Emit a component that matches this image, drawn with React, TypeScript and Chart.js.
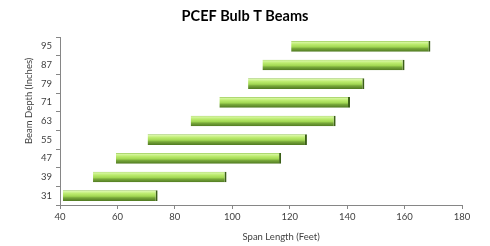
import React, { useEffect, useRef } from "react";
import { Chart, registerables } from "chart.js";

Chart.register(...registerables);

const depths = ["31", "39", "47", "55", "63", "71", "79", "87", "95"];
const spanStart = [41, 51.5, 59.5, 70.5, 85.5, 95.5, 105.5, 110.5, 120.5];
const spanEnd = [74, 98, 117, 126, 136, 141, 146, 160, 169];
const xTicks = [40, 60, 80, 100, 120, 140, 160, 180];

const titleText = "PCEF Bulb T Beams";
const xTitle = "Span Length (Feet)";
const yTitle = "Beam Depth (Inches)";

const FONT = "Lato, 'Open Sans', sans-serif";
const CAT_PCT = 0.6;
const BAR_PCT = 0.95;

const textPlugin = {
  id: "textPlugin",
  afterDraw(chart: any) {
    const { ctx, chartArea, width } = chart;
    ctx.save();
    ctx.textAlign = "center";
    ctx.textBaseline = "middle";
    ctx.fillStyle = "#000000";
    ctx.font = `bold 14.5px ${FONT}`;
    ctx.fillText(titleText, width / 2, 16);
    ctx.fillStyle = "#404040";
    ctx.font = `9.5px ${FONT}`;
    const cx = chartArea.left + (chartArea.right - chartArea.left) * 0.55;
    ctx.fillText(xTitle, cx, 237);
    ctx.translate(29, chartArea.top + (chartArea.bottom - chartArea.top) * 0.38);
    ctx.rotate(-Math.PI / 2);
    ctx.fillText(yTitle, 0, 0);
    ctx.restore();
  },
};

function barGradient(context: any) {
  const chart = context.chart;
  const y = chart.scales && chart.scales.y;
  if (!y || context.dataIndex === undefined) return "#a6d95a";
  const center = y.getPixelForValue(context.dataIndex);
  const half = ((y.bottom - y.top) / depths.length) * CAT_PCT * BAR_PCT / 2;
  if (!isFinite(center) || !isFinite(half) || half <= 0) return "#a6d95a";
  const g = chart.ctx.createLinearGradient(0, center - half, 0, center + half);
  g.addColorStop(0, "#8cbf48");
  g.addColorStop(0.1, "#d8f7a4");
  g.addColorStop(0.3, "#bdec70");
  g.addColorStop(0.55, "#a2d853");
  g.addColorStop(0.7, "#78a83a");
  g.addColorStop(1, "#4f7821");
  return g;
}

export default function App() {
  const ref = useRef<HTMLCanvasElement>(null);
  useEffect(() => {
    if (!ref.current) return;
    const chart = new Chart(ref.current, {
      type: "bar",
      data: {
        labels: depths,
        datasets: [
          {
            data: depths.map((_, i) => [spanStart[i], spanEnd[i]]) as any,
            backgroundColor: barGradient as any,
            borderColor: "#3b5f17",
            borderWidth: { top: 0, left: 0, bottom: 0, right: 2 } as any,
            borderSkipped: false as any,
            categoryPercentage: CAT_PCT,
            barPercentage: BAR_PCT,
          },
        ],
      },
      options: {
        indexAxis: "y",
        animation: false,
        responsive: false,
        devicePixelRatio: 1,
        layout: { padding: { left: 0, right: 28, top: 37, bottom: 0 } },
        plugins: {
          legend: { display: false },
          tooltip: { enabled: false },
          title: { display: false },
        },
        scales: {
          x: {
            type: "linear",
            min: 40,
            max: 180,
            afterBuildTicks: (s: any) => {
              s.ticks = xTicks.map((v) => ({ value: v }));
            },
            afterFit: (s: any) => {
              s.height = 41;
            },
            ticks: {
              color: "#404040",
              font: { family: FONT, size: 9.5 },
              padding: 2,
              maxRotation: 0,
            },
            grid: {
              drawOnChartArea: false,
              drawTicks: true,
              tickLength: 4,
              color: "#868686",
            },
            border: { color: "#868686" },
          },
          y: {
            reverse: true,
            afterFit: (s: any) => {
              s.width = 60;
            },
            ticks: {
              color: "#404040",
              font: { family: FONT, size: 9.5 },
              padding: 4,
            },
            grid: {
              offset: true,
              drawOnChartArea: false,
              drawTicks: true,
              tickLength: 4,
              color: "#868686",
            },
            border: { color: "#868686" },
          },
        },
      },
      plugins: [textPlugin],
    });
    return () => chart.destroy();
  }, []);
  return (
    <div style={{ position: "fixed", left: 0, top: 0, width: 490, height: 246, background: "#ffffff" }}>
      <canvas ref={ref} width={490} height={246} style={{ display: "block" }} />
    </div>
  );
}
